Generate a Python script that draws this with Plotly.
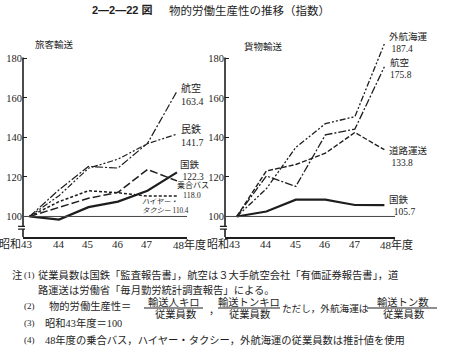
import plotly.graph_objects as go

# ---------------- data ----------------
years = [43, 44, 45, 46, 47, 48]
tick_text = ["昭和43", "44", "45", "46", "47", "48年度"]
y_ticks = [100, 120, 140, 160, 180]

# 旅客輸送 (passenger)
p_air = [100, 113.5, 125.3, 124.5, 137.0, 163.4]
p_private_rail = [100, 110.5, 124.4, 129.0, 136.8, 141.7]
p_jnr = [100, 98.4, 104.7, 107.5, 113.0, 122.3]
p_bus = [100, 104.6, 109.2, 112.2, 123.8, 118.0]
p_taxi = [100, 107.5, 113.0, 112.0, 110.3, 110.4]

# 貨物輸送 (freight)
f_shipping = [100, 114.0, 135.0, 147.0, 150.5, 187.4]
f_air = [100, 120.5, 115.2, 141.3, 144.2, 175.8]
f_road = [100, 123.0, 126.3, 132.0, 142.5, 133.8]
f_jnr = [100, 102.5, 108.5, 108.5, 105.8, 105.7]

W, H = 449, 362
INK = "#1e1e1e"
SERIF = "Liberation Serif, Noto Sans CJK JP"
JP = "Noto Sans CJK JP"


def px(x):
    return x / W


def py(y):
    return 1 - y / H


fig = go.Figure()


def add(x, y, dash, width, xa, ya, name):
    fig.add_trace(go.Scatter(x=x, y=y, mode="lines", name=name,
                             line=dict(color=INK, width=width, dash=dash),
                             xaxis=xa, yaxis=ya, showlegend=False,
                             hoverinfo="skip"))


# left panel
add(years, p_air, "8px,2px,2px,2px", 1.2, "x", "y", "航空")
add(years, p_private_rail, "6px,2px,2px,2px,2px,2px", 1.2, "x", "y", "民鉄")
add(years, p_jnr, "solid", 2.2, "x", "y", "国鉄")
add(years, p_bus, "8px,3px", 1.5, "x", "y", "乗合バス")
add(years, p_taxi, "3px,2px", 1.5, "x", "y", "ハイヤー・タクシー")

# right panel
add(years, f_shipping, "6px,2px,2px,2px,2px,2px", 1.3, "x2", "y2", "外航海運")
add(years, f_air, "8px,2px,2px,2px", 1.3, "x2", "y2", "航空")
add(years, f_road, "5px,2px", 1.4, "x2", "y2", "道路運送")
add(years, f_jnr, "solid", 2.2, "x2", "y2", "国鉄")

Y0, Y1 = 89.6, 195.0
common_x = dict(tickvals=years, showline=True, linecolor=INK, linewidth=1.6,
                ticks="", showgrid=False, zeroline=False, showticklabels=False)
common_y = dict(range=[Y0, Y1], tickvals=y_ticks, ticks="inside", ticklen=4,
                tickcolor=INK, tickwidth=1.2, showline=False, showgrid=False,
                zeroline=False, tickfont=dict(family=SERIF, size=10.5, color=INK))

fig.update_layout(
    width=W, height=H, margin=dict(l=0, r=0, t=0, b=0),
    paper_bgcolor="white", plot_bgcolor="white",
    xaxis=dict(domain=[px(23), px(187)], range=[42.78, 48.34], anchor="y", **common_x),
    yaxis=dict(domain=[py(237), py(28.8)], anchor="x", **common_y),
    xaxis2=dict(domain=[px(225), px(395)], range=[42.6, 48.36], anchor="y2", **common_x),
    yaxis2=dict(domain=[py(237), py(28.8)], anchor="x2", **common_y),
)

shapes = []
for xr, yr in (("x domain", "y"), ("x2 domain", "y2")):
    # y-axis line with break
    shapes.append(dict(type="line", xref=xr, yref=yr, x0=0, x1=0, y0=95.0, y1=180.5,
                       line=dict(color=INK, width=1.6)))
    shapes.append(dict(type="line", xref=xr, yref=yr, x0=0, x1=0, y0=Y0, y1=93.6,
                       line=dict(color=INK, width=1.6)))
    shapes.append(dict(type="line", xref=xr, yref=yr, x0=-0.03, x1=0.012, y0=95.0, y1=95.0,
                       line=dict(color=INK, width=1.1)))
    shapes.append(dict(type="line", xref=xr, yref=yr, x0=-0.03, x1=0.012, y0=93.6, y1=93.6,
                       line=dict(color=INK, width=1.1)))
    # base (100) line
    shapes.append(dict(type="line", xref=xr, yref=yr, x0=0, x1=1, y0=100, y1=100,
                       line=dict(color="#444", width=1.0)))

# fraction bars in note (2)
for x0, x1 in ((144, 203), (218, 280), (367, 437)):
    shapes.append(dict(type="line", xref="paper", yref="paper", x0=px(x0), x1=px(x1),
                       y0=py(308), y1=py(308), line=dict(color=INK, width=1)))
fig.update_layout(shapes=shapes)

ann = []


def T(x, y, text, size=10, family=SERIF, xanchor="left", yanchor="middle", align="left"):
    ann.append(dict(x=px(x), y=py(y), xref="paper", yref="paper", text=text,
                    showarrow=False, xanchor=xanchor, yanchor=yanchor, align=align,
                    font=dict(family=family, size=size, color=INK)))


# x-axis category labels placed through each panel's x scale
for xa in ("x", "x2"):
    for i, (yr_, lab) in enumerate(zip(years, tick_text)):
        if i == 0:
            xanchor, shift = "right", 6
        elif i == len(years) - 1:
            xanchor, shift = "left", -6
        else:
            xanchor, shift = "center", 0
        ann.append(dict(x=yr_, y=py(244), xref=xa, yref="paper", text=lab,
                        showarrow=False, xanchor=xanchor, yanchor="middle",
                        xshift=shift, font=dict(family=SERIF, size=11, color=INK)))

# title
T(155, 10, "<b>2—2—22 図</b>", 11, "Liberation Sans, Noto Sans CJK JP", xanchor="right")
T(167, 10, "物的労働生産性の推移（指数）", 11.5, JP)

# panel titles
T(33, 44, "旅客輸送", 9.5, JP)
T(242, 46, "貨物輸送", 9.5, JP)

# left end labels
T(179, 94, "航空<br>163.4", 10)
T(179, 136, "民鉄<br>141.7", 10)
T(178, 171, "国鉄<br>&nbsp;122.3", 9.5)
T(175, 189.5, "乗合バス<br>&nbsp;&nbsp;&nbsp;118.0", 8)
T(140, 206, "<i>ハイヤー・</i><br><i>タクシー</i>&nbsp;110.4", 7.2)

# right end labels
T(387, 42, "外航海運<br>&nbsp;187.4", 9.5)
T(388, 68.5, "航空<br>175.8", 9.5)
T(387, 156, "道路運送<br>&nbsp;133.8", 9.5)
T(387, 205, "国鉄<br>&nbsp;&nbsp;105.7", 9.5)

# notes
NS = 10.3
T(10, 275, "注", NS)
T(22, 275, "(1)", 9)
T(36, 275, "従業員数は国鉄「監査報告書」，航空は３大手航空会社「有価証券報告書」，道", NS)
T(36, 290, "路運送は労働省「毎月勤労統計調査報告」による。", NS)
T(22, 306, "(2)", 9)
T(47, 306, "物的労働生産性＝", NS)
T(173.5, 302, "輸送人キロ", NS, xanchor="center")
T(175, 314, "従業員数", NS, xanchor="center")
T(207, 310, "，", NS)
T(249, 302, "輸送トンキロ", NS, xanchor="center")
T(249, 314, "従業員数", NS, xanchor="center")
T(280, 308, "ただし，外航海運は", 9.6)
T(402, 302, "輸送トン数", NS, xanchor="center")
T(403, 314, "従業員数", NS, xanchor="center")
T(22, 323, "(3)", 9)
T(43, 323, "昭和43年度＝100", NS)
T(22, 340, "(4)", 9)
T(43, 340, "48年度の乗合バス，ハイヤー・タクシー，外航海運の従業員数は推計値を使用", NS)

fig.update_layout(annotations=ann)

fig.write_html("out.html", config={"displayModeBar": False},
               post_script="document.body.style.margin='0';document.body.style.overflow='hidden';")
